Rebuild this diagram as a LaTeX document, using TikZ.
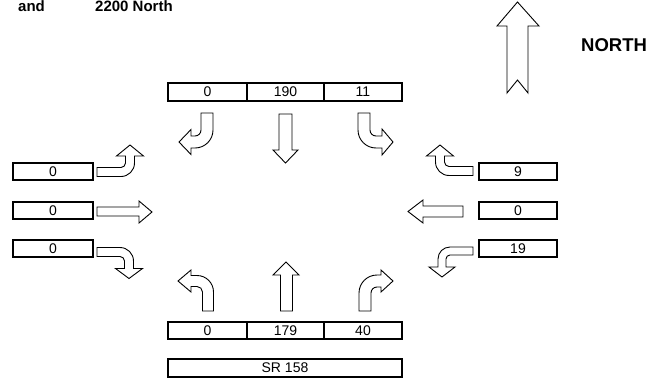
\documentclass[tikz,border=0pt]{standalone}
\usepackage{fontspec}
\setmainfont{Liberation Sans}
\tikzset{
  cell/.style={draw, line width=1.8pt, minimum height=17.5pt, inner sep=0pt, font=\fontsize{14}{16}\selectfont},
  arrowline/.style={draw, line width=0.9pt, fill=white, line join=miter},
  lbl/.style={inner sep=0pt, font=\bfseries\fontsize{15}{17}\selectfont}
}
\newcommand{\TurnArrow}[6]{%
\begin{scope}[#1]
\pgfmathsetmacro\tA{#2}\pgfmathsetmacro\tD{#3}\pgfmathsetmacro\tE{#4}%
\pgfmathsetmacro\tH{#5}\pgfmathsetmacro\tL{#6}%
\pgfmathsetmacro\tRo{3*#2}\pgfmathsetmacro\tRi{#2}%
\pgfmathsetmacro\pA{\tD+\tA-\tRo}\pgfmathsetmacro\pB{\tD+\tA-\tRo+0.5523*\tRo}%
\pgfmathsetmacro\pC{\tA-\tRo+0.5523*\tRo}\pgfmathsetmacro\pDy{\tD+\tA}%
\pgfmathsetmacro\pE{\tA-\tRo}\pgfmathsetmacro\pF{\tL-\tE}%
\pgfmathsetmacro\pG{\tD+\tH}\pgfmathsetmacro\pH{\tD-\tH}\pgfmathsetmacro\pI{\tD-\tA}%
\pgfmathsetmacro\pJ{-\tA-\tRi}\pgfmathsetmacro\pK{-\tA-\tRi+0.5523*\tRi}%
\pgfmathsetmacro\pM{\tD-\tA-\tRi+0.5523*\tRi}\pgfmathsetmacro\pN{\tD-\tA-\tRi}%
\pgfmathsetmacro\pO{-\tA}\pgfmathsetmacro\pP{-\tE}%
\path[arrowline] (\pO,0) -- (\tA,0) -- (\tA,\pA) .. controls (\tA,\pB) and (\pC,\pDy) .. (\pE,\pDy)
  -- (\pF,\pDy) -- (\pF,\pG) -- (\pP,\tD) -- (\pF,\pH) -- (\pF,\pI) -- (\pJ,\pI)
  .. controls (\pK,\pI) and (\pO,\pM) .. (\pO,\pN) -- cycle;
\end{scope}}
\begin{document}
\begin{tikzpicture}[x=1pt,y=1pt,yscale=-1]
\useasboundingbox (0,0) rectangle (648,383);
% title text
\node[lbl, anchor=base west] (tand) at (18,11.5) {and};
\node[lbl, anchor=base west] (tnorth) at (95,11.5) {2200 North};
\node[inner sep=0pt, anchor=base west, font=\bfseries\fontsize{18.5}{20}\selectfont] (lnorth) at (581,51.5) {NORTH};
% north arrow
\path[arrowline] (507,93) -- (507,26) -- (497,26) -- (517.5,2) -- (539,26) -- (528,26) -- (528,93) -- (517.5,80) -- cycle;
% top (southbound) boxes
\node[cell, minimum width=79pt] (sbL) at (207.5,92) {0};
\node[cell, minimum width=77pt] (sbT) at (285.5,92) {190};
\node[cell, minimum width=78pt] (sbR) at (363,92) {11};
% bottom (northbound) boxes
\node[cell, minimum width=79pt] (nbL) at (207.5,330.5) {0};
\node[cell, minimum width=77pt] (nbT) at (285.5,330.5) {179};
\node[cell, minimum width=78pt] (nbR) at (363,330.5) {40};
\node[cell, minimum width=234pt] (road) at (285,368) {SR 158};
% left (eastbound) boxes
\node[cell, minimum width=80pt] (ebL) at (53,171.5) {0};
\node[cell, minimum width=80pt] (ebT) at (53,210.5) {0};
\node[cell, minimum width=80pt] (ebR) at (53,248.5) {0};
% right (westbound) boxes
\node[cell, minimum width=78pt] (wbR) at (518,171.5) {9};
\node[cell, minimum width=78pt] (wbT) at (518,210.5) {0};
\node[cell, minimum width=78pt] (wbL) at (518,248.5) {19};
% straight arrows
\path[arrowline] (279,114) -- (292,114) -- (292,150) -- (298,150) -- (285.5,163) -- (273,150) -- (279,150) -- cycle;
\path[arrowline] (280.5,311) -- (292.5,311) -- (292.5,275) -- (299,275) -- (286,262) -- (273,275) -- (280.5,275) -- cycle;
\path[arrowline] (97,207) -- (139,207) -- (139,201) -- (152,212) -- (139,223) -- (139,216) -- (97,216) -- cycle;
\path[arrowline] (463,206) -- (423,206) -- (423,200) -- (408,211.5) -- (423,223) -- (423,217) -- (463,217) -- cycle;
% turn arrows
\TurnArrow{shift={(207,113)}}{6}{29}{28}{12.5}{12}
\TurnArrow{shift={(364,113)},xscale=-1}{6}{29}{29}{13}{11}
\TurnArrow{shift={(208,311)},yscale=-1}{5.5}{30}{30}{11}{13}
\TurnArrow{shift={(365,311)},xscale=-1,yscale=-1}{6}{30}{28}{11}{12}
\TurnArrow{cm={0,1,1,0,(97,172)}}{4.5}{33}{27}{13.5}{11}
\TurnArrow{shift={(97,252)},rotate=-90}{4.5}{32}{26.5}{13.5}{10}
\TurnArrow{shift={(473,171)},rotate=90}{4.5}{33}{26}{13.5}{11}
\TurnArrow{cm={0,-1,-1,0,(473,251)}}{4}{31}{26}{13}{10}
\end{tikzpicture}
\end{document}
